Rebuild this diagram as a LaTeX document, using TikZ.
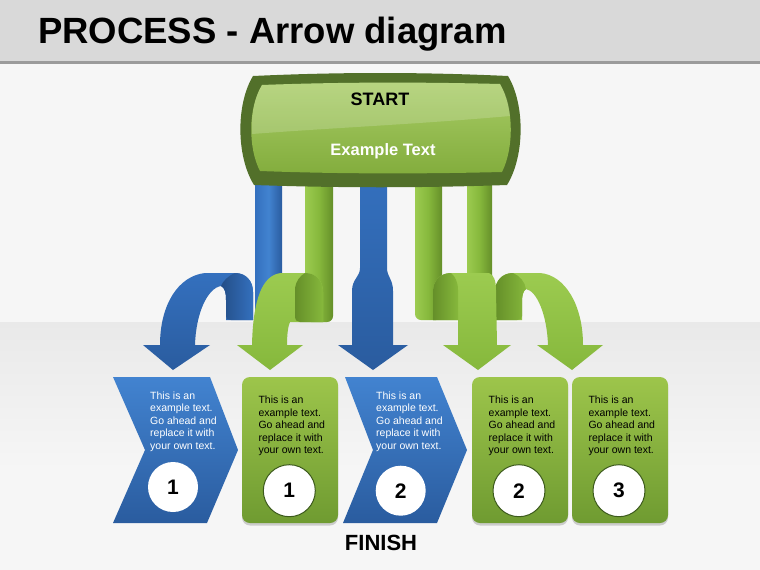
\documentclass[tikz,border=0pt]{standalone}
\usepackage{fontspec}
\setmainfont{Liberation Sans}
\usetikzlibrary{shadows}
\definecolor{titlebg}{HTML}{D9D9D9}
\definecolor{titleline}{HTML}{9B9B9B}
\definecolor{pagebg}{HTML}{F6F6F6}
\definecolor{floorc}{HTML}{E9E9E9}
\definecolor{blA}{HTML}{4283D0}
\definecolor{blB}{HTML}{3470BE}
\definecolor{blC}{HTML}{2A5C9F}
\definecolor{grA}{HTML}{9CCB50}
\definecolor{grB}{HTML}{86B83C}
\definecolor{grC}{HTML}{658F29}
\definecolor{grBorder}{HTML}{52702A}
\definecolor{boxTop}{HTML}{9DC54B}
\definecolor{boxBot}{HTML}{6F9B31}
\definecolor{circEdge}{HTML}{3C5A1C}
\definecolor{startTop}{HTML}{A8CC66}
\definecolor{startBot}{HTML}{83AD3D}
\tikzset{
  bluestrip/.style={left color=blB, right color=blC, middle color=blA},
  greenstrip/.style={left color=grA, right color=grC, middle color=grB},
  bluearrow/.style={top color=blB, bottom color=blC},
  greenarrow/.style={top color=grA, bottom color=grB},
  bluecurl/.style={left color=blC!85!black, right color=blB},
  greencurl/.style={left color=grC, right color=grB},
  chev/.style={top color=blA, bottom color=blC},
  gbox/.style={top color=boxTop, bottom color=boxBot, rounded corners=8pt,
     drop shadow={shadow xshift=0pt, shadow yshift=-2.5pt, opacity=0.35}},
  boxtxt/.style={anchor=north west, inner sep=0pt, align=left,
     font=\fontsize{10.5}{12.5}\selectfont},
  numc/.style={circle, fill=white, minimum size=50pt, inner sep=0pt,
     font=\fontsize{21}{21}\selectfont\bfseries},
  numg/.style={numc, draw=circEdge, line width=1pt, minimum size=52pt}
}
\begin{document}
\begin{tikzpicture}[x=1pt,y=-1pt]
\useasboundingbox (0,0) rectangle (760,570);
% background
\fill[pagebg] (0,0) rectangle (760,570);
\shade[top color=floorc, bottom color=pagebg] (0,322) rectangle (760,470);
\fill[titlebg] (0,0) rectangle (760,61);
\fill[titleline] (0,61) rectangle (760,63.5);
\node[anchor=base west, inner sep=0pt, font=\fontsize{36.5}{36.5}\selectfont\bfseries] (title) at (38,43) {PROCESS - Arrow diagram};

% ---- left ribbons
\shade[bluestrip, rounded corners=6pt] (255,175) -- (255,320) -- (282,320) -- (282,175) -- cycle;
\shade[bluearrow] (253,320) -- (253,292) .. controls (253,281) and (246,273) .. (235,273) -- (205,273)
  .. controls (178,276) and (160,305) .. (160,345) -- (143,345) -- (173,370) -- (210,345) -- (195,345)
  .. controls (196,312) and (208,288) .. (221,286) .. controls (225,288) and (226,293) .. (226,300) -- (226,320) -- cycle;
\shade[bluecurl] (253,320) -- (253,292) .. controls (253,281) and (246,273) .. (235,273)
  .. controls (228,276) and (223,281) .. (221,286) .. controls (225,288) and (226,293) .. (226,300) -- (226,316)
  .. controls (226,319) and (228,320) .. (231,320) -- cycle;

\shade[greenstrip, rounded corners=6pt] (305,175) -- (305,322) -- (333,322) -- (333,175) -- cycle;
\shade[greenarrow] (323,322) -- (323,292) .. controls (323,281) and (316,273) .. (305,273) -- (281,273)
  .. controls (262,275) and (253,300) .. (252,345) -- (237,345) -- (270,370) -- (303,345) -- (287,345)
  .. controls (287,335) and (288,326) .. (290,322) -- cycle;
\shade[greencurl] (323,322) -- (323,292) .. controls (323,281) and (316,273) .. (305,273)
  .. controls (300,276) and (296,281) .. (295,288) -- (295,316) .. controls (295,320) and (297,322) .. (300,322) -- cycle;

% ---- middle blue straight ribbon
\shade[bluearrow] (360,175) -- (360,268) .. controls (360,277) and (352,279) .. (352,291) -- (352,345) -- (338,345)
  -- (373,370) -- (408,345) -- (393,345) -- (393,291) .. controls (393,279) and (387,277) .. (387,268) -- (387,175) -- cycle;

% ---- right ribbons
\shade[greenstrip, rounded corners=6pt] (467,175) -- (467,320) -- (492,320) -- (492,175) -- cycle;
\shade[greenarrow] (495,320) -- (495,292) .. controls (495,281) and (502,273) .. (513,273) -- (540,273)
  .. controls (565,275) and (583,305) .. (583,345) -- (603,345) -- (572,370) -- (537,345) -- (548,345)
  .. controls (547,315) and (537,291) .. (526,289) .. controls (523,291) and (522,296) .. (522,302) -- (522,320) -- cycle;
\shade[greencurl] (495,320) -- (495,292) .. controls (495,281) and (502,273) .. (513,273)
  .. controls (520,276) and (525,282) .. (526,289) .. controls (523,291) and (522,296) .. (522,302) -- (522,316)
  .. controls (522,319) and (520,320) .. (517,320) -- cycle;

\shade[greenstrip, rounded corners=6pt] (415,175) -- (415,320) -- (442,320) -- (442,175) -- cycle;
\shade[greenarrow] (433,320) -- (433,292) .. controls (433,281) and (440,273) .. (451,273) -- (489,273)
  .. controls (494,275) and (496,281) .. (496,290) -- (497,345) -- (511,345) -- (478,370) -- (443,345)
  -- (458,345) -- (458,320) -- cycle;
\shade[greencurl] (433,320) -- (433,292) .. controls (433,281) and (440,273) .. (451,273)
  .. controls (455,276) and (458,282) .. (458,290) -- (458,320) -- cycle;

% ---- start box
\fill[grBorder] (253,76) .. controls (340,72) and (420,72) .. (508,76)
  .. controls (525,104) and (525,156) .. (507,185)
  .. controls (420,188) and (340,188) .. (254,185)
  .. controls (236,156) and (236,104) .. (253,76) -- cycle;
\shade[top color=startTop, bottom color=startBot] (262,85) .. controls (340,82) and (420,82) .. (500,84)
  .. controls (514,108) and (514,148) .. (502,172)
  .. controls (420,174) and (340,174) .. (260,171)
  .. controls (248,148) and (248,108) .. (262,85) -- cycle;
\fill[white, opacity=0.18] (262,85) .. controls (340,82) and (420,82) .. (500,84)
  .. controls (506,94) and (509,104) .. (510,116)
  .. controls (420,124) and (330,128) .. (252,134)
  .. controls (251,116) and (254,98) .. (262,85) -- cycle;
\node[font=\fontsize{18}{18}\selectfont\bfseries] (start) at (380,99.5) {START};
\node[font=\fontsize{16.5}{16.5}\selectfont\bfseries, text=white] (extext) at (383,151) {Example Text};

% ---- bottom boxes
\shade[chev] (113,377) -- (210,377) -- (238,450) -- (207,523) -- (113,523) -- (145,450) -- cycle;
\shade[chev] (345,377) -- (437,377) -- (467,450) -- (437,523) -- (343,523) -- (373,450) -- cycle;
\shade[gbox] (242,377) rectangle (338,523);
\shade[gbox] (472,377) rectangle (568,523);
\shade[gbox] (572,377) rectangle (668,523);

\node[boxtxt, text=white] (t1) at (150,391.5) {This is an\\example text.\\Go ahead and\\replace it with\\your own text.};
\node[boxtxt] (t2) at (258.3,396) {This is an\\example text.\\Go ahead and\\replace it with\\your own text.};
\node[boxtxt, text=white] (t3) at (376,391.5) {This is an\\example text.\\Go ahead and\\replace it with\\your own text.};
\node[boxtxt] (t4) at (488.5,396) {This is an\\example text.\\Go ahead and\\replace it with\\your own text.};
\node[boxtxt] (t5) at (588.3,396) {This is an\\example text.\\Go ahead and\\replace it with\\your own text.};

\node[numc] (n1) at (173,487) {1};
\node[numg] (n2) at (289.3,490.7) {1};
\node[numc] (n3) at (400.7,490.7) {2};
\node[numg] (n4) at (519,490.7) {2};
\node[numg] (n5) at (619,490.7) {3};

\node[anchor=base, inner sep=0pt, font=\fontsize{22}{22}\selectfont\bfseries] (finish) at (381,550) {FINISH};
\end{tikzpicture}
\end{document}
